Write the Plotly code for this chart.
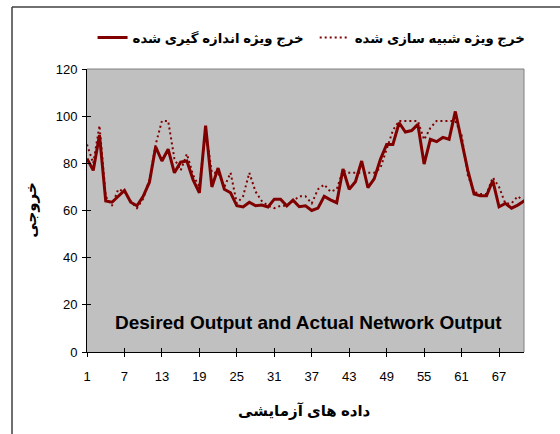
import plotly.graph_objects as go

samples = list(range(1, 72))

measured = [82, 77, 92, 64, 63.5, 66, 68.5, 63.5, 62, 66,
            72, 87, 81, 86, 76, 80.5, 81, 73, 67.5, 96,
            70, 78, 69, 67.5, 62, 61.5, 63.5, 62, 62.3, 61.5,
            64.8, 64.8, 62, 64.4, 61.6, 62, 60, 61, 66, 64.5,
            63.3, 77.6, 69, 72.2, 81, 69.7, 73.4, 81.7, 88, 88,
            97.2, 93.3, 93.9, 96.5, 79.7, 90.2, 89.2, 91, 90.2, 102,
            89, 77, 67, 66.3, 66.3, 72.7, 61.6, 63, 61, 62.3, 64]

simulated = [88, 80, 96, 66, 62, 69, 68, 64, 61, 65,
             73, 88, 98, 98, 82, 77, 84, 75, 70, 94,
             76, 76, 70, 76, 63, 66, 76, 68, 64, 62,
             61, 62, 62, 64, 66, 66, 63, 69, 71, 68,
             69, 77, 76, 76, 76, 76, 76, 78, 86, 94,
             98, 98, 98, 98, 90, 95, 98, 98, 98, 98,
             92, 75, 68, 67, 67, 74, 70, 63, 63, 66, 64]

x_ticks = [1, 7, 13, 19, 25, 31, 37, 43, 49, 55, 61, 67]
y_ticks = [0, 20, 40, 60, 80, 100, 120]

name_measured = "خرج ویژه اندازه گیری شده"
name_simulated = "خرج ویژه شبیه سازی شده"
x_title = "داده های آزمایشی"
y_title = "خروجی"
chart_title = "Desired Output and Actual Network Output"

RED = "#800000"
FONT = "Arial, Liberation Sans, DejaVu Sans, sans-serif"

fig = go.Figure()
fig.add_trace(go.Scatter(x=samples, y=measured, mode="lines", name=name_measured,
                         line=dict(color=RED, width=3)))
fig.add_trace(go.Scatter(x=samples, y=simulated, mode="lines", name=name_simulated,
                         line=dict(color=RED, width=2, dash="2px,3px")))
fig.add_trace(go.Scatter(x=[None], y=[None], xaxis="x2", yaxis="y2",
                         showlegend=False, hoverinfo="skip"))

xr = [samples[0], samples[-1]]
yr = [y_ticks[0], y_ticks[-1]]

fig.update_layout(
    width=560, height=434,
    margin=dict(l=87, r=36, t=69, b=82, autoexpand=False),
    paper_bgcolor="white",
    plot_bgcolor="#C0C0C0",
    font=dict(family=FONT, size=12, color="black"),
    showlegend=True,
    legend=dict(orientation="h", x=-0.001, xanchor="left", y=1.11, yanchor="middle",
                indentation=6, itemwidth=30,
                font=dict(family=FONT, size=13.3, color="black", weight="bold"),
                bgcolor="rgba(0,0,0,0)", traceorder="normal"),
    xaxis=dict(range=xr, tickvals=x_ticks, ticktext=[str(v) for v in x_ticks],
               showgrid=False, zeroline=False, showline=True, linecolor="black", linewidth=1,
               ticks="outside", ticklen=4, tickcolor="black", ticklabelstandoff=8,
               tickfont=dict(size=13)),
    yaxis=dict(range=yr, tickvals=y_ticks, showgrid=False, zeroline=False,
               showline=True, linecolor="black", linewidth=1,
               ticks="outside", ticklen=4, tickcolor="black", ticklabelstandoff=2,
               tickfont=dict(size=13)),
    xaxis2=dict(overlaying="x", anchor="y2", range=xr, tickvals=x_ticks, showticklabels=False,
                ticks="inside", ticklen=4, tickcolor="black", showgrid=False,
                zeroline=False, showline=False),
    yaxis2=dict(overlaying="y", anchor="x2", range=yr, tickvals=y_ticks, showticklabels=False,
                ticks="inside", ticklen=4, tickcolor="black", showgrid=False,
                zeroline=False, showline=False),
    shapes=[
        dict(type="line", xref="paper", yref="paper", x0=0, x1=1, y0=1, y1=1,
             line=dict(color="#808080", width=1), layer="below"),
        dict(type="line", xref="paper", yref="paper", x0=1, x1=1, y0=0, y1=1,
             line=dict(color="#808080", width=1), layer="below"),
        dict(type="line", xref="paper", yref="paper", x0=-0.1716, x1=-0.1716, y0=-0.32, y1=1.219,
             line=dict(color="#404040", width=1.5)),
        dict(type="line", xref="paper", yref="paper", x0=-0.1716, x1=1.1, y0=1.219, y1=1.219,
             line=dict(color="#404040", width=1.5)),
    ],
    annotations=[
        dict(text=chart_title, xref="paper", yref="paper", x=0.506, y=0.1025,
             showarrow=False, xanchor="center", yanchor="middle",
             font=dict(family=FONT, size=19, color="black", weight="bold")),
        dict(text=x_title, xref="paper", yref="paper", x=0.498, y=-0.21,
             showarrow=False, xanchor="center", yanchor="middle",
             font=dict(family=FONT, size=15, color="black", weight="bold")),
        dict(text=y_title, xref="paper", yref="paper", x=-0.13, y=0.5, textangle=-90,
             showarrow=False, xanchor="center", yanchor="middle",
             font=dict(family=FONT, size=15, color="black", weight="bold")),
    ],
)

fig.write_html("out.html", config={"displayModeBar": False},
               post_script="document.body.style.margin='0';")
